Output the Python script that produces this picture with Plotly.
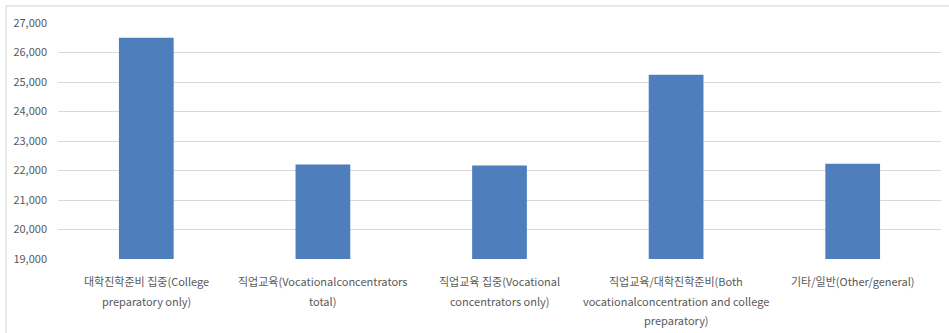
import plotly.graph_objects as go

categories = ["대학진학준비 집중(College preparatory only)",
              "직업교육(Vocationalconcentrators total)",
              "직업교육 집중(Vocational concentrators only)",
              "직업교육/대학진학준비(Both vocationalconcentration and college preparatory)",
              "기타/일반(Other/general)"]
label_lines = [
    ["대학진학준비 집중(College", "preparatory only)"],
    ["직업교육(Vocationalconcentrators", "total)"],
    ["직업교육 집중(Vocational", "concentrators only)"],
    ["직업교육/대학진학준비(Both", "vocationalconcentration and college", "preparatory)"],
    ["기타/일반(Other/general)"],
]
values = [26500, 22200, 22170, 25250, 22230]
y_ticks = [19000, 20000, 21000, 22000, 23000, 24000, 25000, 26000, 27000]

FONT = "Noto Sans CJK KR, Noto Sans, sans-serif"
TXT = "#595959"

fig = go.Figure(go.Bar(x=categories, y=values, marker=dict(color="#4F7EBD", line=dict(width=0)),
                       width=0.31))

W, H = 949, 333
L, R, T, B = 58, 8, 23, 74
pw, ph = W - L - R, H - T - B

annotations = []
for cat, lines in zip(categories, label_lines):
    for i, line in enumerate(lines):
        annotations.append(dict(x=cat, xref="x", y=0, yref="paper", yanchor="middle",
                                xanchor="center", text=line, showarrow=False,
                                yshift=-22 - 19.5 * i,
                                font=dict(family=FONT, size=11, color=TXT)))

fig.update_layout(
    width=W, height=H,
    margin=dict(l=L, r=R, t=T, b=B),
    paper_bgcolor="white", plot_bgcolor="white",
    showlegend=False,
    font=dict(family=FONT, size=11, color=TXT),
    annotations=annotations,
    shapes=[dict(type="rect", xref="paper", yref="paper",
                 x0=(6 - L) / pw, x1=1 + (R + 10) / pw,
                 y0=-(B + 10) / ph, y1=1 + (T - 6) / ph,
                 line=dict(color="#d0d0d0", width=1), fillcolor="rgba(0,0,0,0)", layer="below")],
)
fig.update_xaxes(showticklabels=False, showgrid=False, zeroline=False, showline=False, ticks="")
fig.update_yaxes(range=[19000, 27000], tickvals=y_ticks, tickformat=",d",
                 showgrid=True, gridcolor="#d9d9d9", gridwidth=1, zeroline=False,
                 showline=False, ticks="", ticklabelstandoff=10,
                 tickfont=dict(family=FONT, size=11, color=TXT))

fig.write_html("out.html")
